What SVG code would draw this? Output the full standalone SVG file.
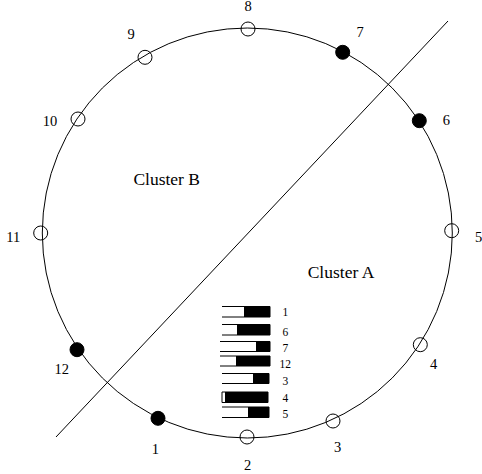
<svg xmlns="http://www.w3.org/2000/svg" width="482" height="474" viewBox="0 0 482 474">
<style>
.lbl{font-family:"Liberation Serif","Times New Roman",serif;font-size:14.5px;fill:#000;text-anchor:middle}
.cl{font-family:"Liberation Serif","Times New Roman",serif;font-size:17.5px;fill:#000;text-anchor:middle}
.lg{font-family:"Liberation Serif","Times New Roman",serif;font-size:11.5px;fill:#000;text-anchor:middle}
.open{fill:none;stroke:#000;stroke-width:1}
.full{fill:#000;stroke:#000;stroke-width:1}
.bar{fill:none;stroke:#000;stroke-width:1}
</style>
<rect width="482" height="474" fill="#fff"/>
<g id="connectors">
<circle cx="247.3" cy="233" r="205" fill="none" stroke="#000" stroke-width="1"/>
<line x1="56" y1="437" x2="448" y2="21" stroke="#000" stroke-width="1"/>
</g>
<g id="node8"><circle class="open" cx="248" cy="29" r="7"/><text class="lbl" x="248" y="10.5">8</text></g>
<g id="node7"><circle class="full" cx="342.7" cy="52.3" r="7"/><text class="lbl" x="360" y="36.5">7</text></g>
<g id="node6"><circle class="full" cx="419.3" cy="120.7" r="7"/><text class="lbl" x="446.3" y="125">6</text></g>
<g id="node5"><circle class="open" cx="451.7" cy="230.7" r="7"/><text class="lbl" x="478.5" y="242">5</text></g>
<g id="node4"><circle class="open" cx="420.3" cy="344.7" r="7"/><text class="lbl" x="433.7" y="368.5">4</text></g>
<g id="node3"><circle class="open" cx="333" cy="421" r="7"/><text class="lbl" x="337.7" y="452">3</text></g>
<g id="node2"><circle class="open" cx="247" cy="437" r="7"/><text class="lbl" x="247.7" y="469.5">2</text></g>
<g id="node1"><circle class="full" cx="158" cy="418.3" r="7"/><text class="lbl" x="155.3" y="453.5">1</text></g>
<g id="node12"><circle class="full" cx="77" cy="349.7" r="7"/><text class="lbl" x="61.7" y="374">12</text></g>
<g id="node11"><circle class="open" cx="40.7" cy="233" r="7"/><text class="lbl" x="13.3" y="242">11</text></g>
<g id="node10"><circle class="open" cx="78" cy="119" r="7"/><text class="lbl" x="50" y="126">10</text></g>
<g id="node9"><circle class="open" cx="145" cy="57.3" r="7"/><text class="lbl" x="131" y="39">9</text></g>
<g id="clusterB"><text class="cl" x="166.7" y="184.8">Cluster B</text></g>
<g id="clusterA"><text class="cl" x="341" y="277.8">Cluster A</text></g>
<g id="legend">
<path class="bar" d="M222 306.5H270V317H222"/><rect x="244" y="306.5" width="26" height="10.5"/>
<text class="lg" x="285.3" y="316">1</text>
<path class="bar" d="M222 324.5H270V335H222"/><rect x="237" y="324.5" width="33" height="10.5"/>
<text class="lg" x="285.3" y="335.5">6</text>
<path class="bar" d="M220 341.5H270V351.5H220"/><rect x="256" y="341.5" width="14" height="10"/>
<text class="lg" x="285.3" y="352">7</text>
<path class="bar" d="M220 356H270V366H220"/><rect x="236" y="356" width="34" height="10"/>
<text class="lg" x="285.3" y="368">12</text>
<path class="bar" d="M222 373.5H269V383.5H222"/><rect x="253" y="373.5" width="16" height="10"/>
<text class="lg" x="285.3" y="384.5">3</text>
<path class="bar" d="M222 392H268V402.5H222Z"/><rect x="225" y="392" width="43" height="10.5"/>
<text class="lg" x="285.3" y="401.5">4</text>
<path class="bar" d="M222 407H269V417.5H222"/><rect x="248" y="407" width="21" height="10.5"/>
<text class="lg" x="285.3" y="418">5</text>
</g>
</svg>
